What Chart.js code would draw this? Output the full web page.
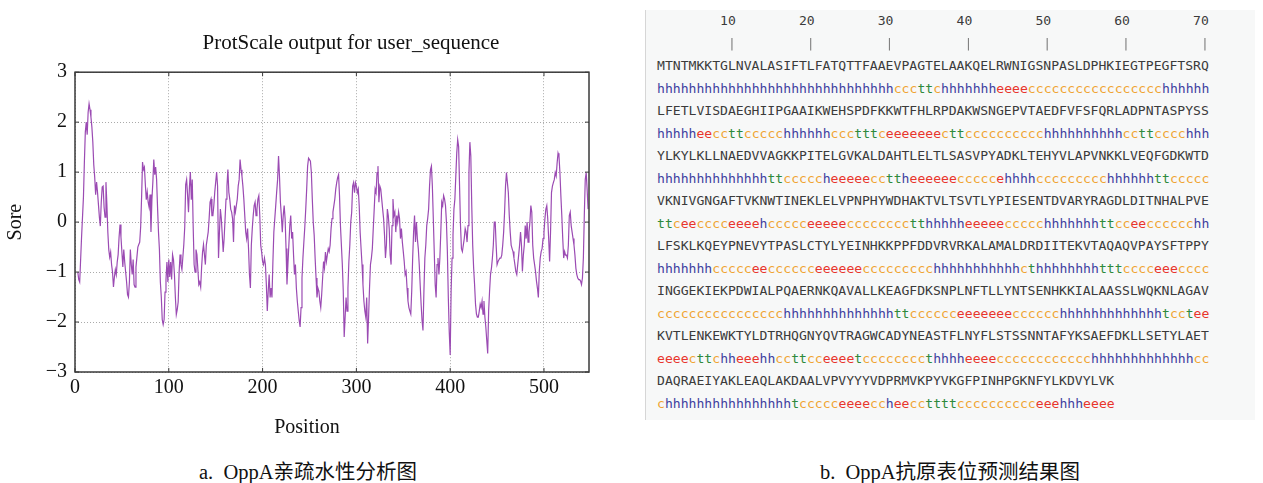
<!DOCTYPE html>
<html>
<head>
<meta charset="utf-8">
<script src="https://cdn.jsdelivr.net/npm/chart.js@4.4.0/dist/chart.umd.min.js"></script>
<style>
  html, body { margin: 0; padding: 0; background: #fff; }
  body { width: 1263px; height: 483px; position: relative; overflow: hidden; }
  #plotBox { position: absolute; left: 0; top: 0; width: 702px; height: 440px; }
  .caption { position: absolute; top: 455px; font-family: "Liberation Serif", "Noto Sans CJK SC", serif; font-size: 20.5px; color: #111; white-space: nowrap; transform: translateX(-50%); }
  #seqPanel { position: absolute; left: 645px; top: 10px; width: 610px; height: 410px; background: #f7f8f8; border-left: 1px solid #d6d6d6; box-sizing: border-box; padding-left: 11px; font-family: "DejaVu Sans Mono", monospace; font-size: 13.1px; color: #3b3b3b; }
  .row { height: 22.5px; line-height: 22.5px; white-space: pre; }
  .h { color: #3f3f9f; } .e { color: #e8352c; } .c { color: #f0a432; } .t { color: #2f8a3c; }
  .bar { color: #808080; display: inline-block; filter: grayscale(1); }
</style>
</head>
<body>
<div id="plotBox"><canvas id="hydro" width="702" height="440"></canvas></div>
<div class="caption" style="left:308px">a.&nbsp; OppA亲疏水性分析图</div>
<div id="seqPanel"></div>
<div class="caption" style="left:950px">b.&nbsp; OppA抗原表位预测结果图</div>

<script>
// hydrophobicity profile (ProtScale), one value per residue starting at position 3
const firstPosition = 3;
const scores = [
  -1.0, -1.15, -1.2, -0.75, -0.3, 0.1, 0.5, 1.2, 1.8, 2.0,
  1.75, 2.2, 2.37, 2.25, 2.1, 1.9, 1.6, 1.15, 0.9, 0.55,
  0.8, 0.6, 0.35, 0.1, -0.08, 0.4, 0.7, 0.72, 0.3, 0.1,
  0.8, 0.35, -0.2, -0.55, -0.7, -0.6, -0.85, -1.0, -1.3, -1.1,
  -0.95, -1.05, -0.8, -0.65, -0.3, -0.05, -0.3, -0.6, -0.9, -0.55,
  -0.8, -1.0, -1.2, -1.45, -1.5, -1.2, -0.55, -0.85, -1.05, -0.75,
  -1.25, -1.3, -0.9, -0.7, -0.5, -0.45, -0.4, -0.1, 0.5, 1.2,
  1.05, 1.1, 0.75, 0.45, 0.6, 0.4, 0.3, 0.55, -0.2, 0.45,
  0.8, 1.25, 0.95, 1.1, 0.85, 0.3, -0.2, -0.55, -1.2, -1.5,
  -1.95, -2.05, -1.95, -1.4, -1.15, -0.8, -1.2, -0.75, -1.1, -0.8,
  -1.15, -0.65, -0.75, -1.05, -1.5, -1.85, -1.75, -1.6, -1.0, -0.65,
  -0.85, -0.95, -0.7, -0.45, -0.1, 0.75, 0.85, 0.55, 0.2, 0.7,
  1.0, 0.45, 0.85, -0.1, -0.85, -1.0, -0.55, -0.65, -0.95, -1.25,
  -1.2, -1.3, -0.9, -0.6, -0.45,
  -0.65, -0.85, -0.46, -0.33, -0.2, 0.07, 0.4, 0.46, 0.13, 0.13,
  0.33, 0.6, 0.8, 1.0, 0.72, -0.72, -0.2, 0.26, 0.07, -0.26,
  -0.6, -0.33, 0.07, 0.46, 0.72, 1.05, 0.6, 0.46, 0.26, 0.2,
  0.07, -0.4, 0.33, 0.2, 0.33, 0.46, 0.72, 0.85, 1.25, 1.05,
  0.92, 0.72, 0.46, 0.13, -0.2, -0.33, -0.13, -0.53, -1.05, -1.32,
  -0.46, -0.13, 0.13, 0.33, 0.4, 0.13, 0.26, 0.46, 0.53, 0.13,
  -0.46, -0.6, -0.79, -0.85, -0.72, -0.85, -1.25, -1.78, -1.38, -1.05,
  -1.51, -1.32, -1.51, -0.79, -0.2, 0.07, 0.33, 0.6, 0.85, 1.32,
  0.92, 0.4, 0.13, -0.2, 0.13, 0.33, 0.07, -0.53, -1.25, -0.85,
  -0.46, -0.07, 0.13, -0.33, -0.2, -0.66, -1.05, -0.85, -1.32, -1.58,
  -1.78, -1.97, -2.1, -1.71, -1.12, -0.72, -0.4, -0.1, 0.26, 0.66,
  1.12, 1.28, 1.25, 1.22, 0.99, 0.46, 0.0, -0.26, -0.72, -1.12,
  -1.51, -1.32, -1.38, -1.58, -1.71, -1.45, -1.12, -0.79, -0.92, -0.6,
  -0.79, -0.66, -0.53,
  -0.59, -0.46, -0.13, 0.07, 0.2, 0.33, 0.46, 0.66, 0.79, 0.89,
  0.95, 0.53, -0.07, -0.46, -0.85, -1.38, -2.3, -1.9, -1.51, -1.78,
  -1.32, -0.79, -0.46, 0.0, 0.2, 0.72, 0.79, 0.59, 0.79, 0.72,
  0.59, 0.66, 0.33, -0.2, -0.53, -0.85, -1.25, -1.58, -1.78, -1.9,
  -1.51, -2.43, -1.9, -1.32, -0.85, -0.72, -0.53, -0.13, 0.26, 0.66,
  0.59, 0.99, 1.12, 0.4, 0.72, 0.66, 0.46, 0.26, 0.07, -0.26,
  -0.72, -0.46, 0.26, 0.13, -0.13, -0.66, -0.85, -0.07, 0.46, 0.13,
  0.2, -0.2, 0.13, 0.0, 0.2, 0.07, -0.33, -0.13, -0.4, -0.59,
  -0.79, -1.05, -0.99, -1.32, -1.58, -1.71, -1.78, -1.84, -1.38, -0.72,
  -0.2, 0.13, -0.4, 0.0, -0.33, -0.53, -0.85, -1.25, -1.64, -1.97,
  -2.17, -1.38, -0.72, -0.46, -0.07, 0.07, 0.26, 0.72, 1.05, 1.12,
  0.72, 0.07, -0.59, -1.25, -1.51, -0.85, -0.72, -1.05, -0.72, -0.2,
  0.4, 0.33, 0.53, 0.46, 0.33, 0.0, -0.59, -1.5, -2.2, -2.66,
  -1.38, -0.72, -0.26, 0.26, 0.46, 0.92, 1.38, 1.65, 1.51, 0.72,
  -0.07, -0.53, -0.59, -0.46, -0.33, -0.13, -0.2, -0.4, -0.07, 0.99,
  1.6, 1.32, 0.33, -0.46, -0.92, -1.25, -1.64, -1.84, -1.9, -1.9,
  -1.78, -1.64, -1.71, -1.58, -1.84, -1.58, -1.9, -2.1, -2.37, -2.63,
  -1.78, -1.38, -1.05, -0.92, -0.72, -0.46, 0.0, 0.0, -0.46, -0.85,
  -0.79, -0.79, -0.72, -0.72, -0.66, -0.46, -0.2, 0.2, 0.72, 0.99,
  0.79, 0.59, 0.13, -0.2, -0.46, -0.53, -0.59, -0.72, -0.85, -0.99,
  -1.05, -0.85, -0.66, -0.46, -0.2, -0.46, -0.99, -0.66, -0.46, -0.07,
  -0.33, 0.0, -0.4, -0.2, 0.0, 0.33, 0.2, -0.46, -0.72, -0.85,
  -0.99, -1.18, -1.32, -1.51, -0.99, -0.72, -0.59, -0.53, -0.33, -0.2,
  0.07, 0.26, 0.33, 0.07, -0.33, -0.79, -0.2, 0.59, 0.72, 0.79,
  0.85, 0.99, 0.92, 1.18, 1.38, 1.32, 0.99, 0.53, 0.13, -0.33,
  -0.72, -0.59, -0.66, -0.66, -0.72, -0.46, 0.13, 0.2, -0.07, -0.2,
  -0.33, -0.46, -0.66, -0.92, -1.05, -1.12, -1.15, -1.15, -1.18, -1.25,
  -1.12, -0.72, 0.13, 0.85, 0.99, 0.66, 0.26
];
const xMax = 548;
const chartTitle = "ProtScale output for user_sequence";

// epitope panel text
const rulerTicks = [10, 20, 30, 40, 50, 60, 70];
const seqLines = [
  "MTNTMKKTGLNVALASIFTLFATQTTFAAEVPAGTELAAKQELRWNIGSNPASLDPHKIEGTPEGFTSRQ",
  "LFETLVISDAEGHIIPGAAIKWEHSPDFKKWTFHLRPDAKWSNGEPVTAEDFVFSFQRLADPNTASPYSS",
  "YLKYLKLLNAEDVVAGKKPITELGVKALDAHTLELTLSASVPYADKLTEHYVLAPVNKKLVEQFGDKWTD",
  "VKNIVGNGAFTVKNWTINEKLELVPNPHYWDHAKTVLTSVTLYPIESENTDVARYRAGDLDITNHALPVE",
  "LFSKLKQEYPNEVYTPASLCTYLYEINHKKPPFDDVRVRKALAMALDRDIITEKVTAQAQVPAYSFTPPY",
  "INGGEKIEKPDWIALPQAERNKQAVALLKEAGFDKSNPLNFTLLYNTSENHKKIALAASSLWQKNLAGAV",
  "KVTLENKEWKTYLDTRHQGNYQVTRAGWCADYNEASTFLNYFLSTSSNNTAFYKSAEFDKLLSETYLAET",
  "DAQRAEIYAKLEAQLAKDAALVPVYYYVDPRMVKPYVKGFPINHPGKNFYLKDVYLVK"
];
const ssLines = [
  "hhhhhhhhhh" + "hhhhhhhhhh" + "hhhhhhhhhh" + "cccttchhhh" + "hhheeeeccc" + "cccccccccc" + "cccchhhhhh",
  "hhhhheecct" + "tccccchhhh" + "hhccctttce" + "eeeeeecttc" + "ccccccccch" + "hhhhhhhhhc" + "cttcccchhh",
  "hhhhhhhhhh" + "hhhhttcccc" + "cheeeeecct" + "theeeeeecc" + "cccehhhhcc" + "ccccccchhh" + "hhhttccccc",
  "ttceecccce" + "eeehccccce" + "eeeecccccc" + "cctthhhhhe" + "eeeeccccch" + "hhhhhhttcc" + "eecccccchh",
  "hhhhhhhccc" + "cceecccccc" + "eeeeeecccc" + "ccccchhhhh" + "hhhhhhcthh" + "hhhhhhtttc" + "ccceeecccc",
  "cccccccccc" + "cccccchhhh" + "hhhhhhhhhh" + "ttccccccee" + "eeeeeccccc" + "chhhhhhhhh" + "hhhhtcctee",
  "eeeecttchh" + "eeehhccttc" + "ceeeetcccc" + "ccccthhhhe" + "eeeccccccc" + "ccccchhhhh" + "hhhhhhhhcc",
  "chhhhhhhhh" + "hhhhhhhtcc" + "ccceeeecch" + "eeccttttcc" + "ccccccccee" + "ehhheeee"
];

// ---- right panel ----
const panel = document.getElementById("seqPanel");
function addRow(html) {
  const d = document.createElement("div");
  d.className = "row";
  d.innerHTML = html;
  panel.appendChild(d);
}
let numRow = "", barRow = "";
rulerTicks.forEach(n => {
  const s = String(n);
  numRow += " ".repeat(10 - s.length - (numRow.length % 10)) + s;
  barRow += " ".repeat(9) + "|";
});
addRow(numRow);
addRow('<span class="bar">' + barRow + '</span>');
seqLines.forEach((seq, i) => {
  addRow(seq);
  let html = "";
  for (const ch of ssLines[i]) html += '<span class="' + ch + '">' + ch + '</span>';
  addRow(html);
});

// ---- left chart ----
const points = scores.map((v, i) => ({ x: firstPosition + i, y: v }));

const framePlugin = {
  id: "frame",
  afterDraw(chart) {
    const { ctx, chartArea: a, scales } = chart;
    ctx.save();
    ctx.strokeStyle = "#3a3a3a";
    ctx.lineWidth = 1.5;
    ctx.strokeRect(a.left, a.top, a.right - a.left, a.bottom - a.top);
    ctx.lineWidth = 1;
    ctx.beginPath();
    scales.x.ticks.forEach(t => {
      const x = scales.x.getPixelForValue(t.value);
      ctx.moveTo(x, a.bottom); ctx.lineTo(x, a.bottom - 4);
      ctx.moveTo(x, a.top); ctx.lineTo(x, a.top + 4);
    });
    scales.y.ticks.forEach(t => {
      const y = scales.y.getPixelForValue(t.value);
      ctx.moveTo(a.left, y); ctx.lineTo(a.left + 4, y);
      ctx.moveTo(a.right, y); ctx.lineTo(a.right - 4, y);
    });
    ctx.stroke();
    ctx.restore();
  }
};

const serif = "'Liberation Serif', 'Times New Roman', serif";

new Chart(document.getElementById("hydro"), {
  type: "line",
  data: {
    datasets: [{
      data: points,
      borderColor: "#9b4bb3",
      borderWidth: 1.2,
      pointRadius: 0,
      tension: 0,
      fill: false
    }]
  },
  options: {
    responsive: false,
    animation: false,
    devicePixelRatio: 1,
    layout: { padding: 0 },
    plugins: {
      legend: { display: false },
      tooltip: { enabled: false },
      title: {
        display: true,
        text: chartTitle,
        color: "#111",
        font: { family: serif, size: 21, weight: "normal" },
        padding: { top: 31, bottom: 16 }
      }
    },
    scales: {
      x: {
        type: "linear",
        min: 0,
        max: xMax,
        afterFit: s => { s.height = 68; },
        ticks: {
          stepSize: 100,
          includeBounds: false,
          color: "#111",
          padding: 4,
          maxRotation: 0,
          font: { family: serif, size: 20 }
        },
        grid: { color: "#aaaaaa", drawTicks: false },
        border: { display: false, dash: [1, 2] },
        title: {
          display: true,
          // trailing no-break spaces nudge the label left, as in the original
          text: "Position\u00a0\u00a0\u00a0\u00a0\u00a0\u00a0\u00a0\u00a0\u00a0\u00a0",
          color: "#111",
          font: { family: serif, size: 20 },
          padding: { top: 2, bottom: 0 }
        }
      },
      y: {
        min: -3,
        max: 3,
        afterFit: s => { s.width = 75; },
        ticks: {
          stepSize: 1,
          color: "#111",
          padding: 8,
          font: { family: serif, size: 20 },
          callback: v => (v < 0 ? "\u2212" + Math.abs(v) : String(v))
        },
        grid: { color: "#aaaaaa", drawTicks: false },
        border: { display: false, dash: [1, 2] },
        title: {
          display: true,
          text: "Sore",
          color: "#111",
          font: { family: serif, size: 20 },
          padding: { top: 4, bottom: 0 }
        }
      },
      // empty right-hand gutter so the title centres like the original
      gutter: {
        type: "linear",
        position: "right",
        min: -3,
        max: 3,
        afterFit: s => { s.width = 113; },
        ticks: { display: false },
        grid: { display: false, drawTicks: false },
        border: { display: false }
      }
    }
  },
  plugins: [framePlugin]
});
</script>
</body>
</html>
